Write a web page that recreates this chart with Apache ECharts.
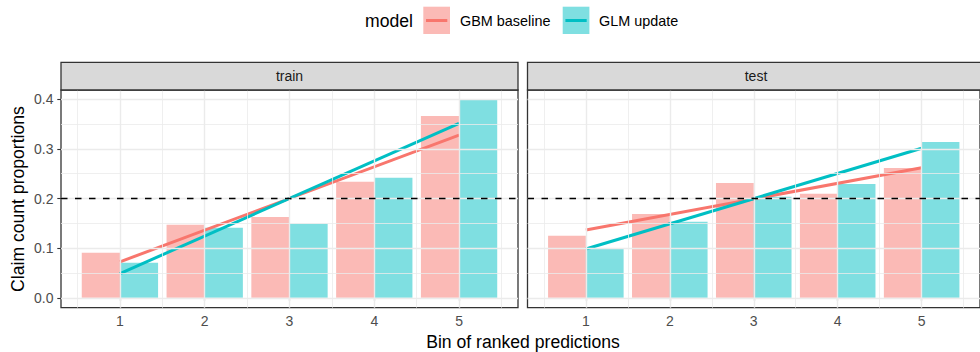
<!DOCTYPE html>
<html>
<head>
<meta charset="utf-8">
<script src="https://cdn.jsdelivr.net/npm/echarts@6/dist/echarts.min.js"></script>
<style>
  html, body { margin: 0; padding: 0; background: #fff; }
  #chart { width: 980px; height: 352px; }
</style>
</head>
<body>
<div id="chart"></div>
<script>
// Claim count proportions per bin of ranked predictions, two models, train/test.
const bins = [1, 2, 3, 4, 5];
const models = ['GBM baseline', 'GLM update'];
const panels = ['train', 'test'];
const trainGBM = [0.0906, 0.147, 0.163, 0.2336, 0.3664];
const trainGLM = [0.0705, 0.141, 0.149, 0.2416, 0.3987];
const testGBM = [0.1248, 0.169, 0.2315, 0.2094, 0.2617];
const testGLM = [0.0987, 0.153, 0.2034, 0.2295, 0.3141];
const yTicks = [0, 0.1, 0.2, 0.3, 0.4];
const yMinor = [0.05, 0.15, 0.25, 0.35];
const xMinor = [0.5, 1.5, 2.5, 3.5, 4.5, 5.5];
const refLevel = 0.2;

const values = [[trainGBM, trainGLM], [testGBM, testGLM]];
const lineColors = ['#F8766D', '#00BFC4'];
const barColors = ['rgba(248,118,109,0.5)', 'rgba(0,191,196,0.5)'];
const FONT = '"Liberation Sans", Arial, Helvetica, sans-serif';

// Panel geometry
const panelLeft = [61, 527.5];
const panelW = 457;
const panelTop = 90;
const panelH = 217.7;
const stripTop = 62.3;
const stripH = panelTop - stripTop;

// Ordinary least squares fit, evaluated at the first and last bin
function fitLine(xs, ys) {
  const n = xs.length;
  const mx = xs.reduce((a, b) => a + b, 0) / n;
  const my = ys.reduce((a, b) => a + b, 0) / n;
  let sxy = 0, sxx = 0;
  for (let i = 0; i < n; i++) {
    sxy += (xs[i] - mx) * (ys[i] - my);
    sxx += (xs[i] - mx) * (xs[i] - mx);
  }
  const slope = sxy / sxx;
  const x0 = xs[0], x1 = xs[n - 1];
  return [[x0, my + slope * (x0 - mx)], [x1, my + slope * (x1 - mx)]];
}

const grids = [], xAxes = [], yAxes = [], series = [];

panels.forEach((p, pi) => {
  grids.push({
    left: panelLeft[pi], top: panelTop, width: panelW, height: panelH,
    show: true, borderColor: '#333333', borderWidth: 1.3, backgroundColor: '#ffffff'
  });
  xAxes.push({
    type: 'value', gridIndex: pi, min: 0.305, max: 5.695,
    axisLine: { show: false },
    splitLine: { show: false },
    axisTick: { show: true, customValues: bins, length: 3.7, lineStyle: { color: '#333333', width: 1.1 } },
    axisLabel: { customValues: bins, color: '#4D4D4D', fontSize: 14, fontFamily: FONT, margin: 6 }
  });
  yAxes.push({
    type: 'value', gridIndex: pi, min: -0.0199, max: 0.4186,
    axisLine: { show: false },
    splitLine: { show: false },
    axisTick: { show: pi === 0, customValues: yTicks, length: 3.7, lineStyle: { color: '#333333', width: 1.1 } },
    axisLabel: {
      show: pi === 0, customValues: yTicks, color: '#4D4D4D', fontSize: 14, fontFamily: FONT, margin: 7.5,
      formatter: v => Number(v).toFixed(1)
    }
  });

  // Background grid lines (major and minor)
  const gridData = [];
  yMinor.forEach(v => gridData.push({ yAxis: v, lineStyle: { color: '#EBEBEB', width: 0.8, type: 'solid' } }));
  xMinor.forEach(v => gridData.push({ xAxis: v, lineStyle: { color: '#EBEBEB', width: 0.8, type: 'solid' } }));
  yTicks.forEach(v => gridData.push({ yAxis: v, lineStyle: { color: '#EBEBEB', width: 1.4, type: 'solid' } }));
  bins.forEach(v => gridData.push({ xAxis: v, lineStyle: { color: '#EBEBEB', width: 1.4, type: 'solid' } }));
  series.push({
    type: 'line', xAxisIndex: pi, yAxisIndex: pi, data: [], z: 1, silent: true,
    markLine: { symbol: 'none', silent: true, label: { show: false }, animation: false, data: gridData }
  });

  // Dodged bars
  models.forEach((m, mi) => {
    const vals = values[pi][mi];
    series.push({
      type: 'custom', name: m, xAxisIndex: pi, yAxisIndex: pi, z: 2,
      data: bins.map((b, i) => [b, vals[i]]),
      encode: { x: 0, y: 1 },
      renderItem: (params, api) => {
        const x = api.value(0);
        const y = api.value(1);
        const xa = mi === 0 ? x - 0.45 : x;
        const xb = mi === 0 ? x : x + 0.45;
        const p0 = api.coord([xa, 0]);
        const p1 = api.coord([xb, y]);
        return {
          type: 'rect',
          shape: { x: p0[0], y: p1[1], width: p1[0] - p0[0], height: p0[1] - p1[1] },
          style: { fill: barColors[mi] }
        };
      }
    });
  });

  // Linear trend per model
  models.forEach((m, mi) => {
    series.push({
      type: 'line', name: m + ' trend', xAxisIndex: pi, yAxisIndex: pi, z: 3,
      data: fitLine(bins, values[pi][mi]),
      showSymbol: false, symbol: 'none', silent: true,
      lineStyle: { color: lineColors[mi], width: 3, cap: 'butt' }
    });
  });

  // Reference level
  series.push({
    type: 'line', xAxisIndex: pi, yAxisIndex: pi, data: [], z: 4, silent: true,
    markLine: {
      symbol: 'none', silent: true, label: { show: false }, animation: false,
      data: [{ yAxis: refLevel }],
      lineStyle: { color: '#000000', width: 1.3, type: [6.5, 7.5] }
    }
  });
});

// Facet strips, titles and legend
const graphics = [];
panels.forEach((p, pi) => {
  graphics.push({
    type: 'rect', z: 10,
    shape: { x: panelLeft[pi], y: stripTop, width: panelW, height: stripH },
    style: { fill: '#D9D9D9', stroke: '#333333', lineWidth: 1.3 }
  });
  graphics.push({
    type: 'text', z: 11, x: panelLeft[pi] + panelW / 2, y: stripTop + stripH / 2,
    style: { text: p, fill: '#1A1A1A', font: '14px ' + FONT, align: 'center', verticalAlign: 'middle' }
  });
});
graphics.push({
  type: 'text', z: 11, x: 523, y: 341.5,
  style: { text: 'Bin of ranked predictions', fill: '#000000', font: '17.6px ' + FONT, align: 'center', verticalAlign: 'middle' }
});
graphics.push({
  type: 'text', z: 11, x: 18, y: 199, rotation: Math.PI / 2,
  style: { text: 'Claim count proportions', fill: '#000000', font: '17.6px ' + FONT, align: 'center', verticalAlign: 'middle' }
});
graphics.push({
  type: 'text', z: 11, x: 365, y: 21,
  style: { text: 'model', fill: '#000000', font: '17.6px ' + FONT, align: 'left', verticalAlign: 'middle' }
});
const keyX = [423.3, 562.7];
const labelX = [460, 599];
models.forEach((m, mi) => {
  graphics.push({
    type: 'rect', z: 11,
    shape: { x: keyX[mi], y: 6.7, width: 26.7, height: 27.3 },
    style: { fill: barColors[mi] }
  });
  graphics.push({
    type: 'line', z: 12,
    shape: { x1: keyX[mi] + 2.7, y1: 20.5, x2: keyX[mi] + 24, y2: 20.5 },
    style: { stroke: lineColors[mi], lineWidth: 3 }
  });
  graphics.push({
    type: 'text', z: 11, x: labelX[mi], y: 21,
    style: { text: m, fill: '#000000', font: '14.4px ' + FONT, align: 'left', verticalAlign: 'middle' }
  });
});

const chart = echarts.init(document.getElementById('chart'), null, { renderer: 'svg' });
chart.setOption({
  backgroundColor: '#ffffff',
  animation: false,
  grid: grids,
  xAxis: xAxes,
  yAxis: yAxes,
  series: series,
  graphic: graphics
});
</script>
</body>
</html>
